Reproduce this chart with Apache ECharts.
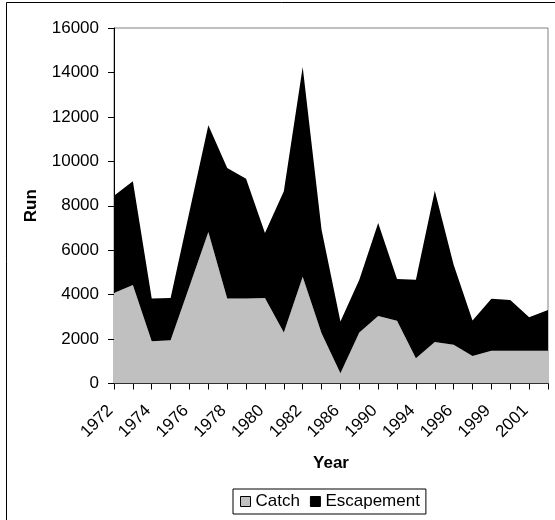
<!DOCTYPE html>
<html>
<head>
<meta charset="utf-8">
<script src="https://cdn.jsdelivr.net/npm/echarts@6/dist/echarts.min.js"></script>
<style>html,body{margin:0;padding:0;background:#fff}#c{width:555px;height:520px}</style>
</head>
<body>
<div id="c"></div>
<script>
var years = ['1972','1973','1974','1975','1976','1977','1978','1979','1980','1981','1982','1984','1986','1988','1990','1992','1994','1995','1996','1998','1999','2000','2001','2002'];
var catchVals = [4070,4430,1900,1950,4380,6820,3820,3830,3850,2290,4810,2260,460,2290,3040,2820,1140,1870,1740,1240,1470,1470,1470,1470];
var escapementVals = [4380,4670,1920,1900,3360,4800,5880,5390,2920,6360,9440,4660,2330,2380,4180,1880,3530,6810,3600,1590,2340,2290,1510,1840];
var yTicks = [0,2000,4000,6000,8000,10000,12000,14000,16000];

var FONT = 'Liberation Sans, Arial, sans-serif';
var chart = echarts.init(document.getElementById('c'), null, {renderer:'canvas'});
chart.setOption({
  animation: false,
  backgroundColor: '#fff',
  textStyle: {fontFamily: FONT},
  graphic: [{
    type: 'rect', shape: {x: 6.5, y: 2.5, width: 600, height: 600},
    style: {fill: 'none', stroke: '#000', lineWidth: 1}, z: -1
  }],
  grid: {left: 114, top: 28, width: 434, height: 355.5, show: true, borderColor: '#808080', borderWidth: 1, backgroundColor: '#fff'},
  legend: {
    left: 233, top: 489, orient: 'horizontal',
    itemWidth: 10, itemHeight: 10, itemGap: 10,
    icon: 'rect',
    borderColor: '#000', borderWidth: 1, padding: [4, 6, 4, 7],
    textStyle: {fontSize: 17, color: '#000', fontFamily: FONT},
    data: [
      {name: 'Catch', itemStyle: {color: '#C0C0C0', borderColor: '#000', borderWidth: 1}},
      {name: 'Escapement', itemStyle: {color: '#000', borderColor: '#000', borderWidth: 1}}
    ]
  },
  xAxis: {
    type: 'category', data: years, boundaryGap: false,
    name: 'Year', nameLocation: 'middle', nameGap: 71,
    nameTextStyle: {fontSize: 17, fontWeight: 'bold', color: '#000', fontFamily: FONT},
    axisLine: {lineStyle: {color: '#000', width: 1}},
    axisTick: {show: true, interval: 0, length: 6, lineStyle: {color: '#000'}},
    axisLabel: {interval: 1, rotate: 45, fontSize: 17, color: '#000', margin: 21, padding: [0, 5, 0, 0], fontFamily: FONT},
    splitLine: {show: false}
  },
  yAxis: {
    type: 'value', min: yTicks[0], max: yTicks[yTicks.length-1], interval: yTicks[1]-yTicks[0],
    name: 'Run', nameLocation: 'middle', nameGap: 74, nameRotate: 90,
    nameTextStyle: {fontSize: 17, fontWeight: 'bold', color: '#000', fontFamily: FONT},
    axisLine: {show: true, lineStyle: {color: '#000', width: 1}},
    axisTick: {show: true, length: 6, lineStyle: {color: '#000'}},
    axisLabel: {fontSize: 17, color: '#000', margin: 15, fontFamily: FONT, formatter: function(v){return String(v);}},
    splitLine: {show: false}
  },
  series: [
    {name: 'Catch', type: 'line', stack: 'run', data: catchVals, showSymbol: false,
     lineStyle: {width: 0}, areaStyle: {color: '#C0C0C0', opacity: 1}, itemStyle: {color: '#C0C0C0'}},
    {name: 'Escapement', type: 'line', stack: 'run', data: escapementVals, showSymbol: false,
     lineStyle: {width: 0}, areaStyle: {color: '#000', opacity: 1}, itemStyle: {color: '#000'}}
  ]
});
</script>
</body>
</html>
